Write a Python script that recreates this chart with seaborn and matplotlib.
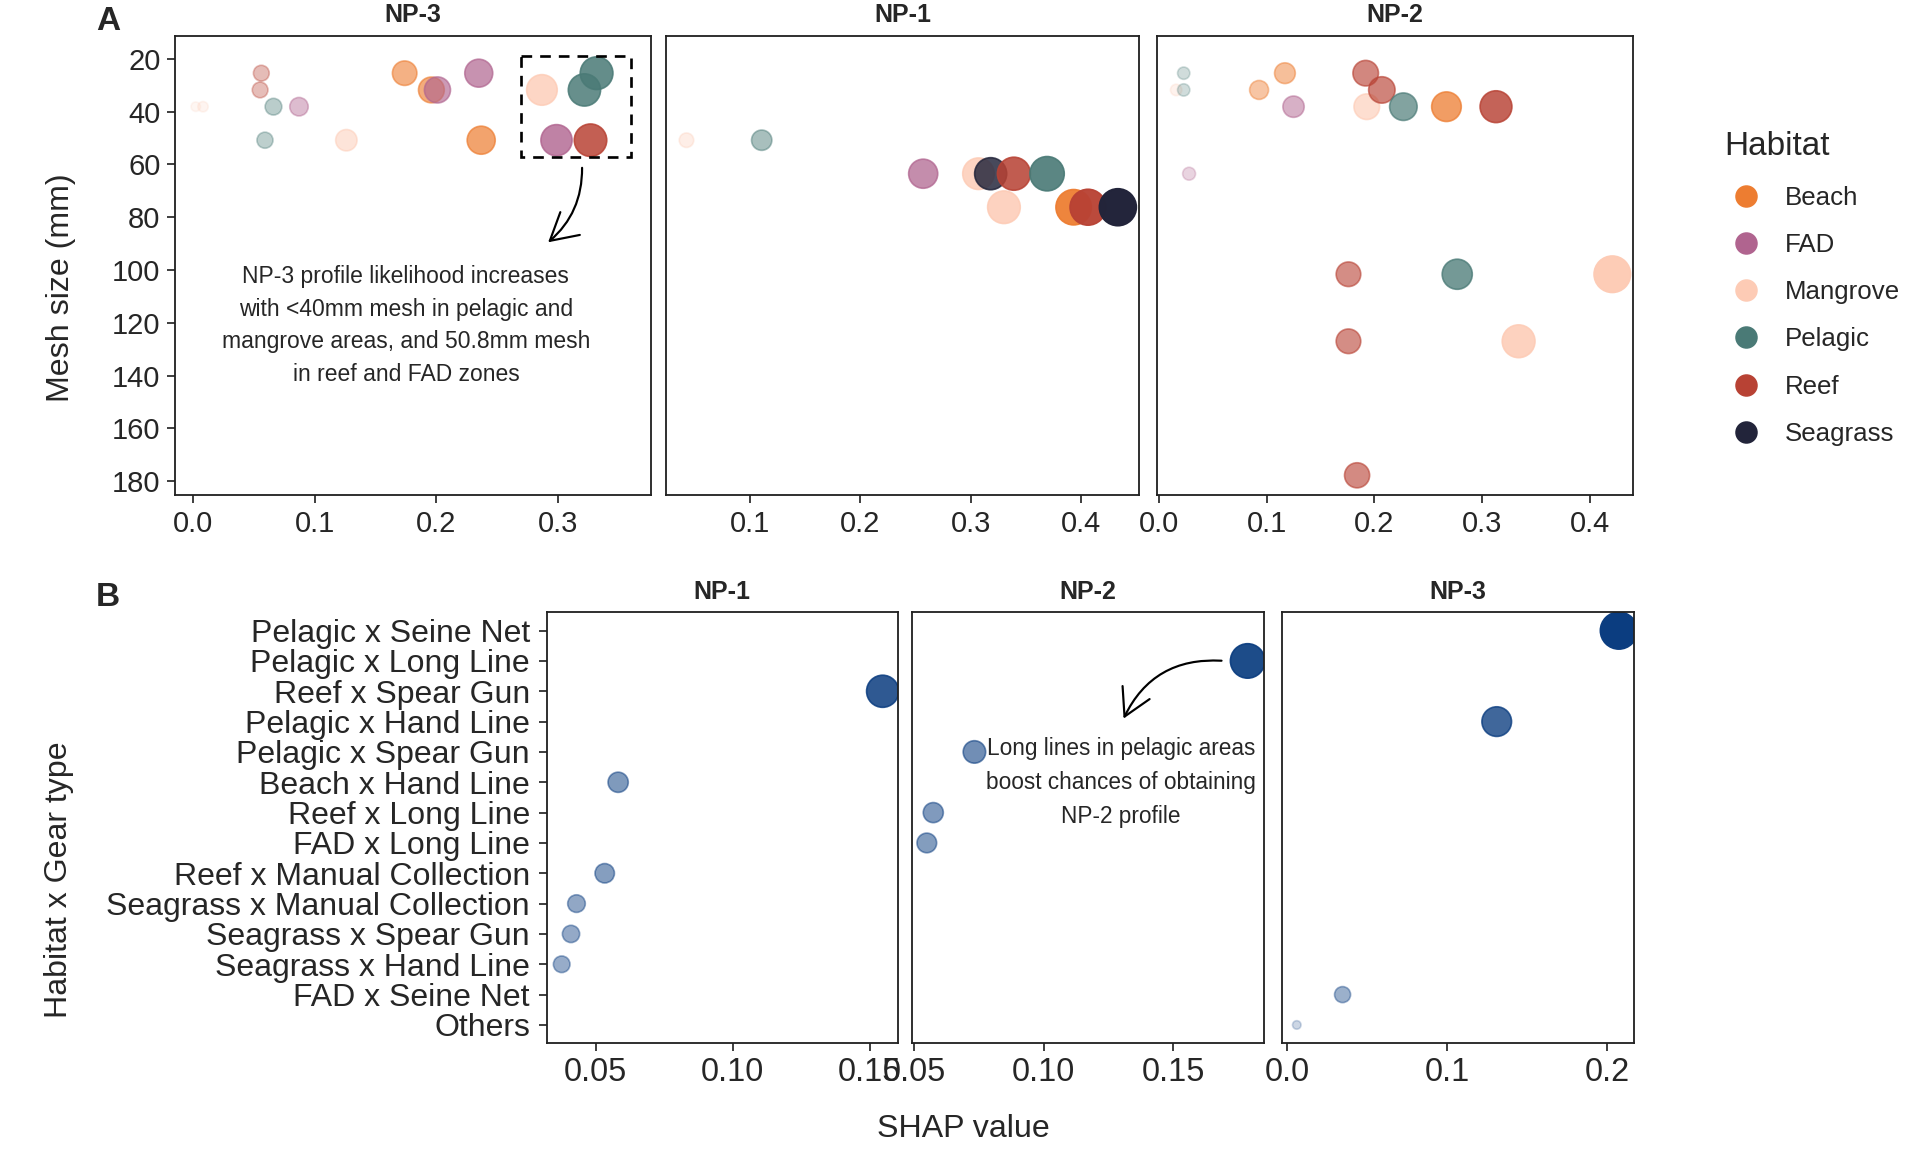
import numpy as np
import pandas as pd
import seaborn as sns
import matplotlib.pyplot as plt
from matplotlib.lines import Line2D
from matplotlib.patches import Rectangle

sns.set_style("ticks")
plt.rcParams['font.family'] = ['Liberation Sans', 'DejaVu Sans']

# ---- panel A data: mesh size vs SHAP value, by habitat ----
habitats = ['Beach', 'FAD', 'Mangrove', 'Pelagic', 'Reef', 'Seagrass']
habitat_colors = ['#ED7D31', '#B0648F', '#FDCBB5', '#4A7A76', '#B84234', '#22243A']

np3_habitat = ['Mangrove', 'Mangrove', 'Reef', 'Reef', 'Pelagic', 'FAD', 'Pelagic', 'Mangrove',
               'Beach', 'Beach', 'FAD', 'FAD', 'Beach', 'Mangrove', 'FAD', 'Pelagic', 'Reef', 'Pelagic']
np3_mesh = [38.1, 38.1, 25.4, 31.75, 38.1, 38.1, 50.8, 50.8,
            25.4, 31.75, 31.75, 25.4, 50.8, 31.75, 50.8, 31.75, 50.8, 25.4]
np3_shap = [0.002, 0.008, 0.056, 0.055, 0.066, 0.087, 0.059, 0.126,
            0.174, 0.196, 0.201, 0.235, 0.237, 0.287, 0.299, 0.322, 0.327, 0.332]

np1_habitat = ['Mangrove', 'Pelagic', 'FAD', 'Mangrove', 'Seagrass', 'Mangrove', 'Reef', 'Pelagic',
               'Beach', 'Reef', 'Seagrass']
np1_mesh = [50.8, 50.8, 63.5, 63.5, 63.5, 76.2, 63.5, 63.5, 76.2, 76.2, 76.2]
np1_shap = [0.043, 0.111, 0.257, 0.307, 0.318, 0.330, 0.339, 0.369, 0.393, 0.406, 0.433]

np2_habitat = ['Mangrove', 'Pelagic', 'Pelagic', 'FAD', 'Beach', 'Beach', 'FAD', 'Reef', 'Reef',
               'Reef', 'Reef', 'Mangrove', 'Reef', 'Pelagic', 'Beach', 'Pelagic', 'Reef',
               'Mangrove', 'Mangrove']
np2_mesh = [31.75, 25.4, 31.75, 63.5, 31.75, 25.4, 38.1, 101.6, 127.0,
            177.8, 25.4, 38.1, 31.75, 38.1, 38.1, 101.6, 38.1,
            127.0, 101.6]
np2_shap = [0.016, 0.023, 0.023, 0.028, 0.093, 0.117, 0.125, 0.176, 0.176,
            0.184, 0.192, 0.193, 0.207, 0.227, 0.267, 0.277, 0.313,
            0.334, 0.421]

# ---- panel B data: habitat x gear type interactions ----
combos = ['Pelagic x Seine Net', 'Pelagic x Long Line', 'Reef x Spear Gun', 'Pelagic x Hand Line',
          'Pelagic x Spear Gun', 'Beach x Hand Line', 'Reef x Long Line', 'FAD x Long Line',
          'Reef x Manual Collection', 'Seagrass x Manual Collection', 'Seagrass x Spear Gun',
          'Seagrass x Hand Line', 'FAD x Seine Net', 'Others']

b_np1_combo = ['Reef x Spear Gun', 'Beach x Hand Line', 'Reef x Manual Collection',
               'Seagrass x Manual Collection', 'Seagrass x Spear Gun', 'Seagrass x Hand Line']
b_np1_shap = [0.1547, 0.0582, 0.0533, 0.0430, 0.0410, 0.0376]

b_np2_combo = ['Pelagic x Long Line', 'Pelagic x Spear Gun', 'Reef x Long Line', 'FAD x Long Line']
b_np2_shap = [0.1788, 0.0732, 0.0573, 0.0548]

b_np3_combo = ['Pelagic x Seine Net', 'Pelagic x Hand Line', 'FAD x Seine Net', 'Others']
b_np3_shap = [0.2073, 0.1310, 0.0347, 0.0061]

pal = dict(zip(habitats, habitat_colors))
blue = '#0B3D80'

fig = plt.figure(figsize=(16, 9.6), dpi=120)

# ---------------- panel A ----------------
a_specs = [('NP-3', np3_habitat, np3_mesh, np3_shap, [0.091, 0.570, 0.248, 0.399], (-0.0153, 0.3767), [0.0, 0.1, 0.2, 0.3]),
           ('NP-1', np1_habitat, np1_mesh, np1_shap, [0.347, 0.570, 0.2464, 0.399], (0.0247, 0.4524), [0.1, 0.2, 0.3, 0.4]),
           ('NP-2', np2_habitat, np2_mesh, np2_shap, [0.6026, 0.570, 0.2478, 0.399], (-0.0018, 0.44), [0.0, 0.1, 0.2, 0.3, 0.4])]

a_axes = []
for i, (title, hab, mesh, shap, rect, xlim, xt) in enumerate(a_specs):
    ax = fig.add_axes(rect)
    df = pd.DataFrame({'habitat': hab, 'mesh': mesh, 'shap': shap}).sort_values('shap')
    sns.scatterplot(data=df, x='shap', y='mesh', hue='habitat', palette=pal, size='shap',
                    sizes=(30, 500), size_norm=(0, 0.44), edgecolor='face', linewidth=1.0,
                    legend=False, ax=ax)
    alphas = 0.15 + 0.85 * (df['shap'].values / 0.435) ** 0.7
    ax.collections[0].set_alpha(np.clip(alphas, 0, 1))
    ax.set_xlim(*xlim)
    ax.set_ylim(185.4, 11.2)
    ax.set_xticks(xt)
    ax.set_xticklabels([f'{v:.1f}' for v in xt])
    ax.set_xlabel('')
    ax.set_ylabel('')
    if i == 0:
        ax.set_yticks(np.arange(20, 181, 20))
    else:
        ax.set_yticks([])
    ax.set_title(title, fontweight='bold', fontsize=15, pad=8)
    a_axes.append(ax)

# callout on NP-3
ax = a_axes[0]
ax.add_patch(Rectangle((0.27, 19.0), 0.09, 38.0, fill=False, ls=(0, (4, 3)), lw=1.6, ec='black'))
ax.annotate('', xy=(0.29, 90.3), xytext=(0.32, 60.0),
            arrowprops=dict(arrowstyle='->,head_length=0.8,head_width=0.45', color='black', lw=1.3,
                            mutation_scale=20, connectionstyle='arc3,rad=-0.25'))
ax.text(0.175, 121, 'NP-3 profile likelihood increases\nwith <40mm mesh in pelagic and\n'
        'mangrove areas, and 50.8mm mesh\nin reef and FAD zones',
        ha='center', va='center', fontsize=13.7, linespacing=1.53)

handles = [Line2D([], [], marker='o', ls='', color=c, markersize=12.5) for c in habitat_colors]
fig.legend(handles, habitats, title='Habitat', loc='upper left', bbox_to_anchor=(0.8978, 0.886),
           frameon=False, fontsize=15.5, title_fontsize=20, labelspacing=0.9,
           handlelength=1.7, handletextpad=0.67, borderpad=0, borderaxespad=0,
           alignment='left')

# ---------------- panel B ----------------
b_specs = [('NP-1', b_np1_combo, b_np1_shap, [0.2847, 0.0945, 0.183, 0.3739], (0.0321, 0.1603), [0.05, 0.10, 0.15], '{:.2f}'),
           ('NP-2', b_np2_combo, b_np2_shap, [0.4749, 0.0945, 0.1834, 0.3739], (0.049, 0.1851), [0.05, 0.10, 0.15], '{:.2f}'),
           ('NP-3', b_np3_combo, b_np3_shap, [0.6679, 0.0945, 0.1831, 0.3739], (-0.0029, 0.2167), [0.0, 0.1, 0.2], '{:.1f}')]

b_axes = []
for i, (title, combo, shap, rect, xlim, xt, fmt) in enumerate(b_specs):
    ax = fig.add_axes(rect)
    df = pd.DataFrame({'combo': combo, 'shap': shap})
    df['pos'] = [combos.index(c) for c in df['combo']]
    df = df.sort_values('shap')
    sns.scatterplot(data=df, x='shap', y='pos', color=blue, size='shap', sizes=(12, 493),
                    size_norm=(0, 0.2073), edgecolor='face', linewidth=1.0, legend=False, ax=ax)
    alphas = 0.1 + 0.9 * (df['shap'].values / 0.2073) ** 0.6
    ax.collections[0].set_alpha(np.clip(alphas, 0, 1))
    ax.set_xlim(*xlim)
    ax.set_ylim(13.6, -0.6)
    ax.set_xticks(xt)
    ax.set_xticklabels([fmt.format(v) for v in xt])
    ax.set_xlabel('')
    ax.set_ylabel('')
    if i == 0:
        ax.set_yticks(range(len(combos)))
        ax.set_yticklabels(combos)
        ax.tick_params(axis='y', labelsize=19.2, pad=5)
    else:
        ax.set_yticks([])
    ax.tick_params(axis='x', labelsize=19.5)
    ax.set_title(title, fontweight='bold', fontsize=15, pad=8)
    b_axes.append(ax)

ax = b_axes[1]
ax.annotate('', xy=(0.1303, 3.0), xytext=(0.17, 1.0),
            arrowprops=dict(arrowstyle='->,head_length=0.8,head_width=0.45', color='black', lw=1.3,
                            mutation_scale=20, connectionstyle='arc3,rad=0.35'))
ax.text(0.1298, 5.0, 'Long lines in pelagic areas\nboost chances of obtaining\nNP-2 profile',
        ha='center', va='center', fontsize=13.6, linespacing=1.6)

for ax in a_axes + b_axes:
    for s in ax.spines.values():
        s.set_visible(True)
        s.set_linewidth(1.1)
        s.set_color('#222222')
    ax.tick_params(direction='out', length=5, width=1.1, color='#333333')
for ax in a_axes:
    ax.tick_params(labelsize=17.5)

fig.text(61 / 1920, 1 - 288 / 1152, 'Mesh size (mm)', rotation=90, ha='center', va='center', fontsize=19.3)
fig.text(59 / 1920, 1 - 880 / 1152, 'Habitat x Gear type', rotation=90, ha='center', va='center', fontsize=19.3)
fig.text(963 / 1920, 1 - 1129 / 1152, 'SHAP value', ha='center', va='center', fontsize=19.3)
fig.text(108 / 1920, 1 - 21 / 1152, 'A', ha='center', va='center', fontsize=20, fontweight='bold')
fig.text(108 / 1920, 1 - 598 / 1152, 'B', ha='center', va='center', fontsize=20, fontweight='bold')

fig.savefig('out.png', dpi=120, facecolor='white')
